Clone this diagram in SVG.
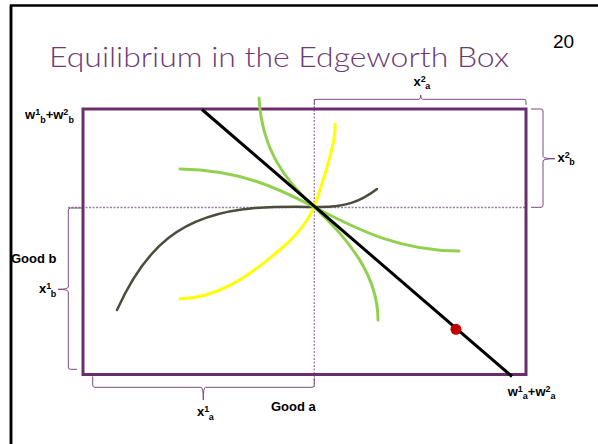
<svg xmlns="http://www.w3.org/2000/svg" width="598" height="444" viewBox="0 0 598 444">
<style>
.lbl{font-family:"Liberation Sans",Arial,sans-serif;font-weight:bold;font-size:13px;fill:#000}
.sm{font-size:9px}
.br{fill:none;stroke:#7B4A80;stroke-width:1}
.dash{fill:none;stroke:#9C7BA0;stroke-width:1.3;stroke-dasharray:2,1.5}
.crv{fill:none;stroke-linecap:round}
</style>
<rect width="598" height="444" fill="#fff"/>
<g id="slide-frame"><path d="M11,444 V5.5 H598" fill="none" stroke="#000" stroke-width="2.5"/></g>
<g id="title"><text x="49" y="67" font-family="Lato,'Open Sans',sans-serif" font-weight="300" font-size="28" fill="#6E3A72" textLength="460" lengthAdjust="spacingAndGlyphs">Equilibrium in the Edgeworth Box</text></g>
<g id="page-number"><text x="553" y="47.5" font-family="'Liberation Sans',Arial,sans-serif" font-size="19" fill="#000">20</text></g>

<g id="guides">
<path class="dash" d="M68,207.5 H526"/>
<path class="dash" d="M314.3,99 V387"/>
</g>

<g id="box"><rect x="83" y="109" width="443" height="265.5" fill="none" stroke="#6A2E6C" stroke-width="3"/></g>

<g id="brackets">
<path class="br" d="M314.3,105 V101 Q314.3,99.3 316,99.3 H419 Q420.7,99.3 420.7,95 Q420.7,99.3 422.5,99.3 H524 Q526,99.3 526,101 V105"/>
<path class="br" d="M531,109 H541 Q543,109 543,111 V156.5 Q543,158.7 555,158.7 Q543,158.7 543,161 V205 Q543,207.3 541,207.3 H531"/>
<path class="br" d="M82,208 H70.5 Q68.3,208 68.3,210 V287 Q68.3,289.3 58,289.3 Q68.3,289.3 68.3,292 V367 Q68.3,369.3 70.5,369.3 H77"/>
<path class="br" d="M92.7,376.5 V385 Q92.7,387.3 95,387.3 H201 Q203.3,387.3 203.3,400 Q203.3,387.3 205.5,387.3 H312 Q314.3,387.3 314.3,385 V378"/>
</g>

<g id="curves">
<path id="olive-indifference" class="crv" d="M117,310 C145,248 180,214 255,208 C285,206 305,207 320,207 C345,207 360,202 377,189" stroke="#4D4C3A" stroke-width="2.5"/>
<path id="yellow-indifference" class="crv" d="M180,299 C215,298 245,280 282,248 C305,228 313,212 318,196 C328,165 336,140 335,124" stroke="#FFFF00" stroke-width="3"/>
<path id="green-steep" class="crv" d="M259,98 C262,150 285,180 314,207 C352,242 378,278 378,320" stroke="#92D050" stroke-width="3"/>
<path id="green-flat" class="crv" d="M180,169 C240,170 278,188 314,207 C362,232 402,251 459,251" stroke="#92D050" stroke-width="3"/>
<path id="budget-line" d="M202,109.5 L512,376.5" stroke="#000" stroke-width="3"/>
<circle id="endowment" cx="456" cy="329.3" r="5.5" fill="#C00000"/>
</g>

<g id="labels">
<text class="lbl" x="25" y="119.3">w<tspan class="sm" dy="-4">1</tspan><tspan class="sm" dy="7.5">b</tspan><tspan dy="-3.5">+w</tspan><tspan class="sm" dy="-4">2</tspan><tspan class="sm" dy="7.5">b</tspan></text>
<text class="lbl" x="413.5" y="85.7">x<tspan class="sm" dy="-4">2</tspan><tspan class="sm" dy="7.5" dx="-0.5">a</tspan></text>
<text class="lbl" x="557.5" y="161.7">x<tspan class="sm" dy="-4">2</tspan><tspan class="sm" dy="7.5" dx="-0.5">b</tspan></text>
<text class="lbl" x="39" y="293.3">x<tspan class="sm" dy="-4">1</tspan><tspan class="sm" dy="7.5" dx="-0.5">b</tspan></text>
<text class="lbl" x="197" y="416">x<tspan class="sm" dy="-4">1</tspan><tspan class="sm" dy="7.5" dx="-0.5">a</tspan></text>
<text class="lbl" x="507.7" y="395.7">w<tspan class="sm" dy="-4">1</tspan><tspan class="sm" dy="7.5">a</tspan><tspan dy="-3.5">+w</tspan><tspan class="sm" dy="-4">2</tspan><tspan class="sm" dy="7.5">a</tspan></text>
<text class="lbl" x="11" y="262.7">Good b</text>
<text class="lbl" x="271" y="411">Good a</text>
</g>
<g id="frame-overlay"><path d="M11,444 V5.5" fill="none" stroke="#000" stroke-width="2.5"/></g>
</svg>
